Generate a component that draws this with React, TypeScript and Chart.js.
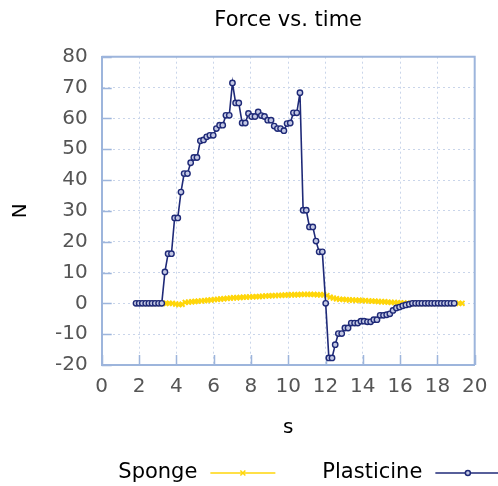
import React, { useEffect, useRef } from "react";
import { Chart, registerables } from "chart.js";

Chart.register(...registerables);

const TITLE = "Force vs. time";
const X_TITLE = "s";
const Y_TITLE = "N";

const plasticineLabel = "Plasticine";
const plasticineTime = [
  1.84, 2.01, 2.18, 2.36, 2.53, 2.7, 2.87, 3.05, 3.22, 3.39,
  3.56, 3.74, 3.91, 4.08, 4.25, 4.42, 4.6, 4.77, 4.94, 5.11,
  5.29, 5.46, 5.63, 5.8, 5.98, 6.15, 6.32, 6.49, 6.66, 6.84,
  7.01, 7.18, 7.35, 7.53, 7.7, 7.87, 8.04, 8.22, 8.39, 8.56,
  8.73, 8.9, 9.08, 9.25, 9.42, 9.59, 9.77, 9.94, 10.11, 10.28,
  10.46, 10.63, 10.8, 10.97, 11.14, 11.32, 11.49, 11.66, 11.83, 12.01,
  12.18, 12.35, 12.52, 12.69, 12.87, 13.04, 13.21, 13.38, 13.56, 13.73,
  13.9, 14.07, 14.25, 14.42, 14.59, 14.76, 14.93, 15.11, 15.28, 15.45,
  15.62, 15.8, 15.97, 16.14, 16.31, 16.49, 16.66, 16.83, 17.0, 17.17,
  17.35, 17.52, 17.69, 17.86, 18.04, 18.21, 18.38, 18.55, 18.73, 18.9,
];
const plasticineForce = [
  0, 0, 0, 0, 0, 0, 0, 0, 0, 10.2,
  16.1, 16.1, 27.7, 27.7, 36.1, 42.1, 42.1, 45.6, 47.3, 47.3,
  52.7, 53.0, 54.0, 54.5, 54.5, 56.7, 57.8, 57.8, 61.0, 61.0,
  71.5, 65.0, 65.0, 58.5, 58.5, 61.6, 60.6, 60.6, 62.1, 60.9,
  60.6, 59.4, 59.4, 57.5, 56.7, 56.7, 56.0, 58.3, 58.5, 61.8,
  61.8, 68.3, 30.2, 30.2, 24.8, 24.8, 20.2, 16.7, 16.7, 0,
  -17.7, -17.7, -13.4, -9.8, -9.8, -8.0, -8.0, -6.4, -6.4, -6.4,
  -5.8, -5.8, -6.0, -6.0, -5.3, -5.3, -3.9, -3.9, -3.7, -3.4,
  -2.3, -1.5, -1.2, -0.8, -0.5, -0.3, 0, 0, 0, 0,
  0, 0, 0, 0, 0, 0, 0, 0, 0, 0,
];

const spongeLabel = "Sponge";
const spongeTime = [
  2.24, 2.41, 2.59, 2.76, 2.93, 3.1, 3.28, 3.45, 3.62, 3.79,
  3.97, 4.14, 4.31, 4.48, 4.66, 4.83, 5.0, 5.17, 5.35, 5.52,
  5.69, 5.86, 6.04, 6.21, 6.38, 6.55, 6.73, 6.9, 7.07, 7.24,
  7.42, 7.59, 7.76, 7.93, 8.11, 8.28, 8.45, 8.62, 8.8, 8.97,
  9.14, 9.31, 9.49, 9.66, 9.83, 10.0, 10.18, 10.35, 10.52, 10.69,
  10.87, 11.04, 11.21, 11.38, 11.56, 11.73, 11.9, 12.07, 12.25, 12.42,
  12.59, 12.76, 12.94, 13.11, 13.28, 13.45, 13.63, 13.8, 13.97, 14.14,
  14.32, 14.49, 14.66, 14.83, 15.01, 15.18, 15.35, 15.52, 15.7, 15.87,
  16.04, 16.21, 16.39, 16.56, 16.73, 16.9, 17.08, 17.25, 17.42, 17.59,
  17.77, 17.94, 18.11, 18.28, 18.46, 18.63, 18.8, 18.97, 19.15, 19.32,
];
const spongeForce = [
  0, 0, 0, 0, 0, 0, 0, 0, 0, 0,
  -0.2, -0.4, -0.3, 0.3, 0.4, 0.5, 0.6, 0.7, 0.8, 0.9,
  1.0, 1.1, 1.2, 1.3, 1.4, 1.5, 1.6, 1.7, 1.8, 1.8,
  1.9, 2.0, 2.0, 2.1, 2.1, 2.2, 2.2, 2.3, 2.4, 2.4,
  2.5, 2.5, 2.6, 2.6, 2.7, 2.7, 2.8, 2.8, 2.8, 2.9,
  2.9, 2.9, 2.9, 2.9, 2.8, 2.8, 2.8, 2.5, 2.0, 1.7,
  1.5, 1.3, 1.3, 1.2, 1.1, 1.1, 1.0, 1.0, 0.9, 0.9,
  0.8, 0.7, 0.7, 0.6, 0.5, 0.5, 0.4, 0.3, 0.3, 0.2,
  0.1, 0.1, 0, 0, 0, 0, 0, 0, 0, 0,
  0, 0, 0, 0, 0, 0, 0, 0, 0, 0,
];

const xMin = 0;
const xMax = 20;
const xStep = 2;
const yMin = -20;
const yMax = 80;
const yStep = 10;

const FONT = "'DejaVu Sans', 'Liberation Sans', sans-serif";
const FRAME = "#9db5dc";
const GRID = "#c9d5ea";
const NAVY = "#1f2a78";
const GOLD = "#ffd60a";

const zip = (xs: number[], ys: number[]) =>
  xs.map((x, i) => ({ x, y: ys[i] })).filter((p) => p.y !== undefined);

const framePlugin = {
  id: "frameTicks",
  beforeDatasetsDraw(chart: any) {
    const { ctx, chartArea: a, scales } = chart;
    const xs = scales.x;
    const ys = scales.y;
    ctx.save();
    ctx.strokeStyle = FRAME;
    ctx.lineWidth = 2;
    ctx.beginPath();
    ctx.moveTo(a.left, a.top);
    ctx.lineTo(a.right, a.top);
    ctx.lineTo(a.right, a.bottom);
    ctx.stroke();
    ctx.lineWidth = 1.5;
    ctx.beginPath();
    ys.ticks.forEach((t: any) => {
      const py = Math.round(ys.getPixelForValue(t.value)) + 0.5;
      ctx.moveTo(a.left, py);
      ctx.lineTo(a.left + 10, py);
    });
    xs.ticks.forEach((t: any) => {
      const px = Math.round(xs.getPixelForValue(t.value)) + 0.5;
      ctx.moveTo(px, a.bottom);
      ctx.lineTo(px, a.bottom - 10);
    });
    ctx.stroke();
    ctx.restore();
  },
};

const titleLegendPlugin = {
  id: "titleLegend",
  afterDraw(chart: any) {
    const { ctx, chartArea: a } = chart;
    ctx.save();
    // title centred over the plot area
    ctx.font = "21px " + FONT;
    ctx.fillStyle = "#000";
    ctx.textAlign = "center";
    ctx.textBaseline = "middle";
    ctx.fillText(TITLE, (a.left + a.right) / 2, 20.5);

    // legend: label, then line sample with marker
    const items = [0, 1].map((i) => chart.data.datasets[i]);
    ctx.textAlign = "left";
    let x = a.left + 16.6;
    const y = 473;
    items.forEach((ds: any) => {
      ctx.fillStyle = "#000";
      ctx.fillText(ds.label, x, y);
      x += ctx.measureText(ds.label).width + 13;
      ctx.strokeStyle = ds.borderColor;
      ctx.lineWidth = 1.5;
      ctx.beginPath();
      ctx.moveTo(x, y);
      ctx.lineTo(x + 65, y);
      ctx.stroke();
      const cx = x + 32.5;
      if (ds.pointStyle === "circle") {
        ctx.beginPath();
        ctx.arc(cx, y, 2.5, 0, Math.PI * 2);
        ctx.fillStyle = ds.pointBackgroundColor;
        ctx.fill();
        ctx.strokeStyle = ds.pointBorderColor;
        ctx.lineWidth = 1.5;
        ctx.stroke();
      } else {
        ctx.beginPath();
        ctx.strokeStyle = ds.pointBorderColor;
        ctx.lineWidth = 1.5;
        ctx.moveTo(cx - 2.5, y - 2.5);
        ctx.lineTo(cx + 2.5, y + 2.5);
        ctx.moveTo(cx - 2.5, y + 2.5);
        ctx.lineTo(cx + 2.5, y - 2.5);
        ctx.stroke();
      }
      x += 65 + 47;
    });
    ctx.restore();
  },
};

export default function App() {
  const ref = useRef<HTMLCanvasElement | null>(null);

  useEffect(() => {
    if (!ref.current) return;
    const chart = new Chart(ref.current, {
      type: "line",
      data: {
        datasets: [
          {
            label: spongeLabel,
            data: zip(spongeTime, spongeForce),
            borderColor: GOLD,
            backgroundColor: GOLD,
            pointBorderColor: GOLD,
            pointBackgroundColor: GOLD,
            pointStyle: "crossRot",
            pointRadius: 3.5,
            pointBorderWidth: 2,
            borderWidth: 1.5,
            order: 2,
          },
          {
            label: plasticineLabel,
            data: zip(plasticineTime, plasticineForce),
            borderColor: NAVY,
            backgroundColor: NAVY,
            pointBorderColor: NAVY,
            pointBackgroundColor: "#c3c8e4",
            pointStyle: "circle",
            pointRadius: 2.7,
            pointBorderWidth: 1.4,
            borderWidth: 1.6,
            order: 1,
          },
        ] as any,
      },
      options: {
        responsive: false,
        animation: false,
        layout: { padding: { left: 0, right: 23.3, top: 56.7, bottom: 46 } },
        plugins: {
          legend: { display: false },
          tooltip: { enabled: false },
          title: { display: false },
        },
        scales: {
          x: {
            type: "linear",
            min: xMin,
            max: xMax,
            afterFit: (s: any) => {
              s.height = 75;
            },
            ticks: {
              stepSize: xStep,
              color: "#555",
              padding: 10,
              font: { family: FONT, size: 20 },
            },
            grid: { color: GRID, lineWidth: 1, drawTicks: false },
            border: { display: true, color: FRAME, width: 2, dash: [2, 3] },
            title: {
              display: true,
              text: X_TITLE,
              color: "#000",
              font: { family: FONT, size: 20 },
              padding: { top: 9, bottom: 0 },
            },
          },
          y: {
            type: "linear",
            min: yMin,
            max: yMax,
            afterFit: (s: any) => {
              s.width = 101.7;
            },
            ticks: {
              stepSize: yStep,
              color: "#555",
              padding: 14,
              font: { family: FONT, size: 20 },
            },
            grid: { color: GRID, lineWidth: 1, drawTicks: false },
            border: { display: true, color: FRAME, width: 2, dash: [2, 3] },
            title: {
              display: true,
              text: Y_TITLE,
              color: "#000",
              font: { family: FONT, size: 20 },
              padding: { top: 9, bottom: 0 },
            },
          },
        },
      } as any,
      plugins: [framePlugin, titleLegendPlugin],
    });
    return () => chart.destroy();
  }, []);

  return (
    <div style={{ position: "fixed", left: 0, top: 0, width: 498, height: 486, background: "#fff" }}>
      <canvas ref={ref} width={498} height={486} style={{ display: "block" }} />
    </div>
  );
}
